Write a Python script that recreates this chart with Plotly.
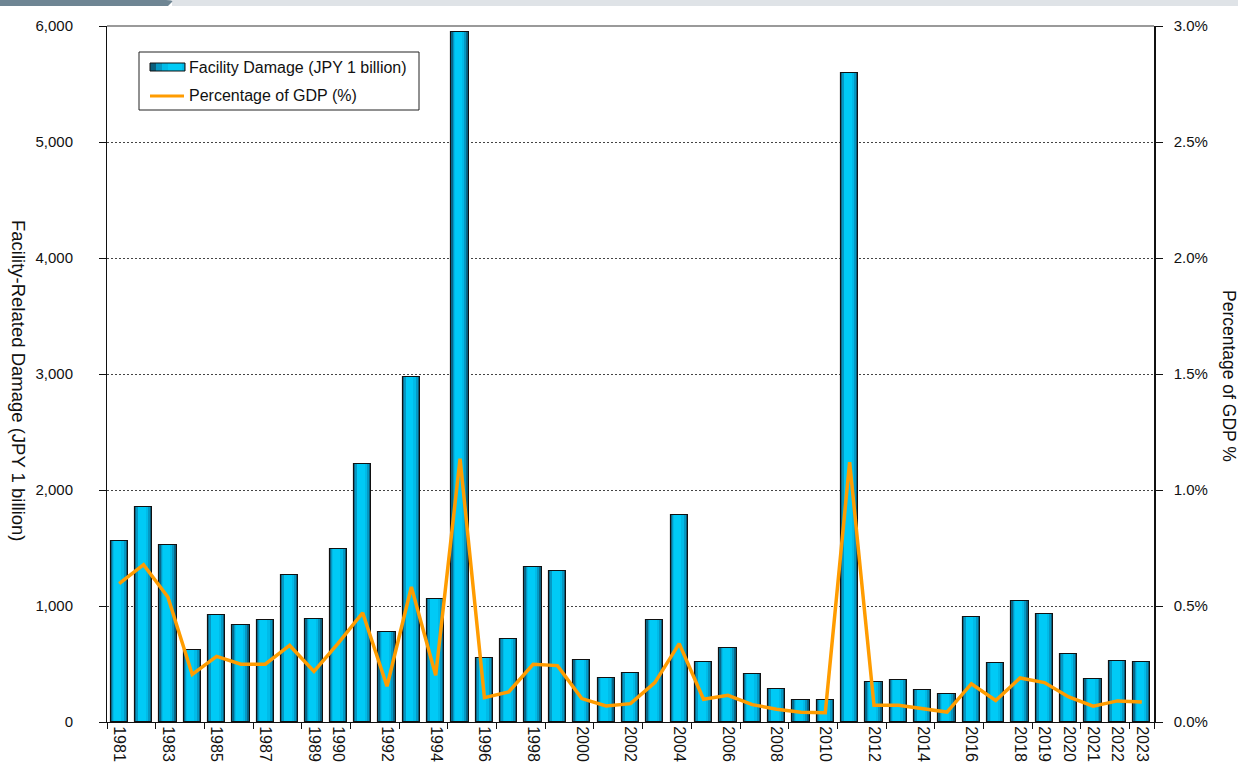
import plotly.graph_objects as go

# ---------------- data ----------------
years = list(range(1981, 2024))
damage_jpy_bn = [1557, 1850, 1525, 620, 922, 840, 882, 1263, 892, 1494,
                 2222, 776, 2976, 1058, 5950, 548, 716, 1338, 1298, 535,
                 380, 421, 880, 1787, 516, 642, 410, 285, 191, 191,
                 5594, 348, 360, 276, 245, 902, 506, 1047, 932, 590,
                 368, 527, 516]
gdp_pct = [0.596, 0.678, 0.539, 0.205, 0.283, 0.249, 0.249, 0.330, 0.218, 0.340,
           0.471, 0.154, 0.582, 0.201, 1.135, 0.105, 0.130, 0.249, 0.243, 0.101,
           0.069, 0.079, 0.170, 0.338, 0.098, 0.115, 0.075, 0.055, 0.042, 0.040,
           1.120, 0.072, 0.072, 0.057, 0.043, 0.165, 0.093, 0.190, 0.170, 0.108,
           0.068, 0.091, 0.086]
label_years = [1981, 1983, 1985, 1987, 1989, 1990, 1992, 1994, 1996, 1998,
               2000, 2002, 2004, 2006, 2008, 2010, 2012, 2014, 2016, 2018,
               2019, 2020, 2021, 2022, 2023]
left_ticks = [0, 1000, 2000, 3000, 4000, 5000, 6000]
right_ticks = [0.0, 0.5, 1.0, 1.5, 2.0, 2.5, 3.0]

bar_name = "Facility Damage (JPY 1 billion)"
line_name = "Percentage of GDP (%)"
left_title = "Facility-Related Damage (JPY 1 billion)"
right_title = "Percentage of GDP %"

FONT = "Liberation Sans, Arial, sans-serif"
W, H = 1238, 765
L, R, T, B = 107, 84, 26, 43
PW, PH = W - L - R, H - T - B


def px(x):
    return (x - L) / PW


def py(y):
    return (H - B - y) / PH


fig = go.Figure()

# cylinder-like shading for bars: layered bars of the same values
layers = [
    (-0.355, 0.71, "#0a6788"),
    (-0.300, 0.56, "#0598c3"),
    (-0.240, 0.42, "#00bbe8"),
    (-0.215, 0.30, "#00caf6"),
]
for off, wd, col in layers:
    fig.add_trace(go.Bar(
        x=years, y=damage_jpy_bn, offset=off, width=wd,
        marker=dict(color=col, line=dict(width=0)),
        showlegend=False, hoverinfo="skip"))
fig.add_trace(go.Bar(
    x=years, y=damage_jpy_bn, offset=-0.355, width=0.71, name=bar_name,
    marker=dict(color="rgba(0,0,0,0)", line=dict(color="#111111", width=1.1)),
    showlegend=False))

fig.add_trace(go.Scatter(
    x=years, y=gdp_pct, yaxis="y2", mode="lines", name=line_name,
    line=dict(color="#FF9C00", width=3.5), showlegend=False))

shapes = []
# header strip (cropped title bar)
shapes.append(dict(type="rect", xref="paper", yref="paper",
                   x0=px(172), x1=px(W), y0=py(0), y1=py(6),
                   fillcolor="#dfe3e7", line=dict(width=0), layer="above"))
shapes.append(dict(type="path", xref="paper", yref="paper",
                   path=f"M {px(0)},{py(0)} L {px(166)},{py(0)} Q {px(174)},{py(0)} {px(172)},{py(2)} L {px(168)},{py(6)} L {px(0)},{py(6)} Z",
                   fillcolor="#6e8593", line=dict(width=0), layer="above"))
# top border of plot
shapes.append(dict(type="line", xref="paper", yref="paper", x0=0, x1=1, y0=1, y1=1,
                   line=dict(color="#9a9a9a", width=2), layer="above"))
# legend box
shapes.append(dict(type="rect", xref="paper", yref="paper",
                   x0=px(139), x1=px(419), y0=py(110), y1=py(52),
                   fillcolor="white", line=dict(color="#222222", width=1), layer="above"))
# legend bar symbol (gradient)
sym = [(150, 185, "#0a5f7c"), (156, 185, "#0598c3"), (162, 184, "#00bbe8"), (168, 182, "#00cbf6")]
for x0, x1, col in sym:
    shapes.append(dict(type="rect", xref="paper", yref="paper",
                       x0=px(x0), x1=px(x1), y0=py(71), y1=py(63),
                       fillcolor=col, line=dict(width=0), layer="above"))
shapes.append(dict(type="rect", xref="paper", yref="paper",
                   x0=px(150), x1=px(185), y0=py(71), y1=py(63),
                   fillcolor="rgba(0,0,0,0)", line=dict(color="#111111", width=1), layer="above"))
# legend line symbol
shapes.append(dict(type="line", xref="paper", yref="paper",
                   x0=px(150), x1=px(184), y0=py(96), y1=py(96),
                   line=dict(color="#FF9C00", width=3), layer="above"))

annotations = [
    dict(text=bar_name, xref="paper", yref="paper", x=px(187), y=py(67),
         xanchor="left", yanchor="middle", showarrow=False,
         font=dict(family=FONT, size=16, color="#111111")),
    dict(text=line_name, xref="paper", yref="paper", x=px(187), y=py(96),
         xanchor="left", yanchor="middle", showarrow=False,
         font=dict(family=FONT, size=16, color="#111111")),
    dict(text=left_title, xref="paper", yref="paper", x=px(19), y=py(380),
         xanchor="center", yanchor="middle", textangle=90, showarrow=False,
         font=dict(family=FONT, size=18.5, color="#111111")),
    dict(text=right_title, xref="paper", yref="paper", x=px(1229), y=py(376),
         xanchor="center", yanchor="middle", textangle=90, showarrow=False,
         font=dict(family=FONT, size=17.5, color="#111111")),
]

fig.update_layout(
    width=W, height=H,
    margin=dict(l=L, r=R, t=T, b=B, autoexpand=False),
    paper_bgcolor="white", plot_bgcolor="white",
    barmode="overlay", bargap=0,
    showlegend=False,
    shapes=shapes, annotations=annotations,
    font=dict(family=FONT, size=15, color="#111111"),
    xaxis=dict(
        range=[1980.5, 2023.5], tickmode="array", tickvals=label_years,
        ticktext=[str(y) for y in label_years], tickangle=90,
        ticks="", showgrid=False, zeroline=False,
        showline=True, linecolor="#111111", linewidth=1,
        tickfont=dict(family=FONT, size=16, color="#111111"),
        automargin=False,
        minor=dict(tickmode="array", tickvals=[y - 0.5 for y in years[::2]] + [2023.5],
                   ticks="outside", ticklen=6, tickcolor="#111111", showgrid=False),
    ),
    yaxis=dict(
        range=[0, 6000], tickmode="array", tickvals=left_ticks,
        ticktext=[f"{v:,}" for v in left_ticks],
        ticks="outside", ticklen=7, tickcolor="#111111",
        showline=True, linecolor="#111111", linewidth=1,
        showgrid=True, gridcolor="#444444", gridwidth=1, griddash="2px,2px",
        zeroline=False, ticklabelstandoff=23,
        tickfont=dict(family=FONT, size=15, color="#111111"),
        automargin=False,
    ),
    yaxis2=dict(
        range=[0, 3], overlaying="y", side="right", tickmode="array",
        tickvals=right_ticks, ticktext=[f"{v:.1f}%" for v in right_ticks],
        ticks="outside", ticklen=7, tickcolor="#111111",
        showline=True, linecolor="#111111", linewidth=1.5,
        showgrid=False, zeroline=False, ticklabelstandoff=8,
        tickfont=dict(family=FONT, size=15, color="#111111"),
        automargin=False,
    ),
)

fig.write_html("out.html", config={"displayModeBar": False},
               post_script="document.body.style.margin='0';")
